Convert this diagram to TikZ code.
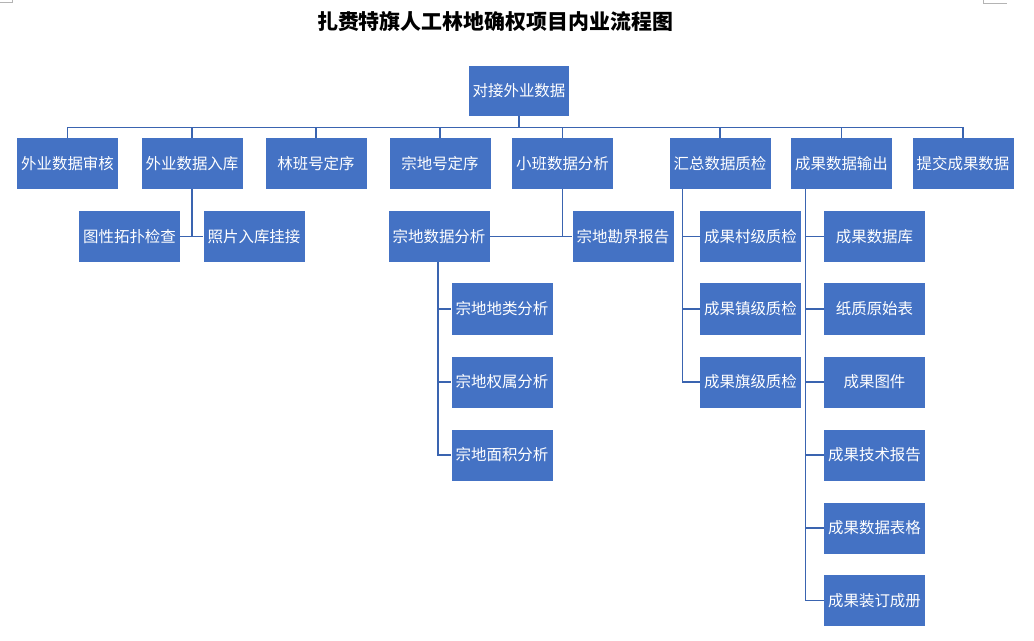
\documentclass[tikz,border=0pt]{standalone}
\usepackage{fontspec}
\newfontfamily\cjk{Noto Sans CJK SC}
\definecolor{boxblue}{HTML}{4472C4}
\definecolor{lineblue}{HTML}{3A64B0}
\definecolor{markgray}{HTML}{B4B4B4}
\tikzset{
  box/.style={fill=boxblue, text=white, minimum width=75.75pt, minimum height=38.25pt,
    inner sep=0pt, font=\cjk\fontsize{11.6pt}{13pt}\selectfont},
  link/.style={draw=lineblue, line width=1pt},
  cropmark/.style={draw=markgray, line width=0.6pt}
}
\begin{document}
\begin{tikzpicture}[x=0.75pt,y=-0.75pt]
\useasboundingbox (0,0) rectangle (1034,641);
% crop marks
\coordinate (m1) at (0,2.5);
\coordinate (m2) at (12,2.5);
\coordinate (m3) at (12,0);
\coordinate (m4) at (983,0);
\coordinate (m5) at (983,3);
\coordinate (m6) at (1007,3);
\draw[cropmark] (m1) -- (m2) -- (m3);
\draw[cropmark] (m4) -- (m5) -- (m6);
% title
\node[font=\cjk\bfseries\fontsize{15.7pt}{18pt}\selectfont, text=black, inner sep=0pt] (title) at (495,22) {扎赉特旗人工林地确权项目内业流程图};
% root
\node[box, minimum width=75pt, minimum height=37.5pt] (root) at (519,91) {对接外业数据};
% level 1
\node[box] (a) at (67.5,163.5) {外业数据审核};
\node[box] (b) at (192,163.5) {外业数据入库};
\node[box] (c) at (316,163.5) {林班号定序};
\node[box] (d) at (440,163.5) {宗地号定序};
\node[box] (e) at (562.5,163.5) {小班数据分析};
\node[box] (f) at (720,163.5) {汇总数据质检};
\node[box] (g) at (841.5,163.5) {成果数据输出};
\node[box] (h) at (963,163.5) {提交成果数据};
% level 2
\node[box] (b1) at (129.5,236.5) {图性拓扑检查};
\node[box] (b2) at (254,236.5) {照片入库挂接};
\node[box] (e1) at (439,236.5) {宗地数据分析};
\node[box] (e2) at (623,236.5) {宗地勘界报告};
\node[box] (s1) at (502,309) {宗地地类分析};
\node[box] (s2) at (502,382) {宗地权属分析};
\node[box] (s3) at (502,455) {宗地面积分析};
\node[box] (f1) at (750.5,236.5) {成果村级质检};
\node[box] (f2) at (750.5,309) {成果镇级质检};
\node[box] (f3) at (750.5,382) {成果旗级质检};
\node[box] (g1) at (874.5,236.5) {成果数据库};
\node[box] (g2) at (874.5,309) {纸质原始表};
\node[box] (g3) at (874.5,382) {成果图件};
\node[box] (g4) at (874.5,455) {成果技术报告};
\node[box] (g5) at (874.5,528) {成果数据表格};
\node[box] (g6) at (874.5,600.5) {成果装订成册};
% bus
\coordinate (bus) at (0,127.5);
\draw[link] (root.south) -- (root.south |- bus);
\draw[link] (a.north |- bus) -- (h.north |- bus);
\foreach \n in {a,b,c,d,e,f,g,h} \draw[link] (\n.north) -- (\n.north |- bus);
% b children
\draw[link] (b.south) -- (b.south |- b1.east);
\draw[link] (b1.east) -- (b2.west);
% e children
\draw[link] (e.south) -- (e.south |- e2.west);
\draw[link] (e1.east) -- (e2.west);
% e1 children
\path (e1.south) ++(-1,0) coordinate (sv);
\draw[link] (sv) |- (s3.west);
\draw[link] (sv |- s1.west) -- (s1.west);
\draw[link] (sv |- s2.west) -- (s2.west);
% f children
\path (f.south west) ++(13,0) coordinate (fv);
\draw[link] (fv) |- (f3.west);
\draw[link] (fv |- f1.west) -- (f1.west);
\draw[link] (fv |- f2.west) -- (f2.west);
% g children
\path (g.south west) ++(15,0) coordinate (gv);
\draw[link] (gv) |- (g6.west);
\foreach \n in {g1,g2,g3,g4,g5} \draw[link] (gv |- \n.west) -- (\n.west);
\end{tikzpicture}
\end{document}
